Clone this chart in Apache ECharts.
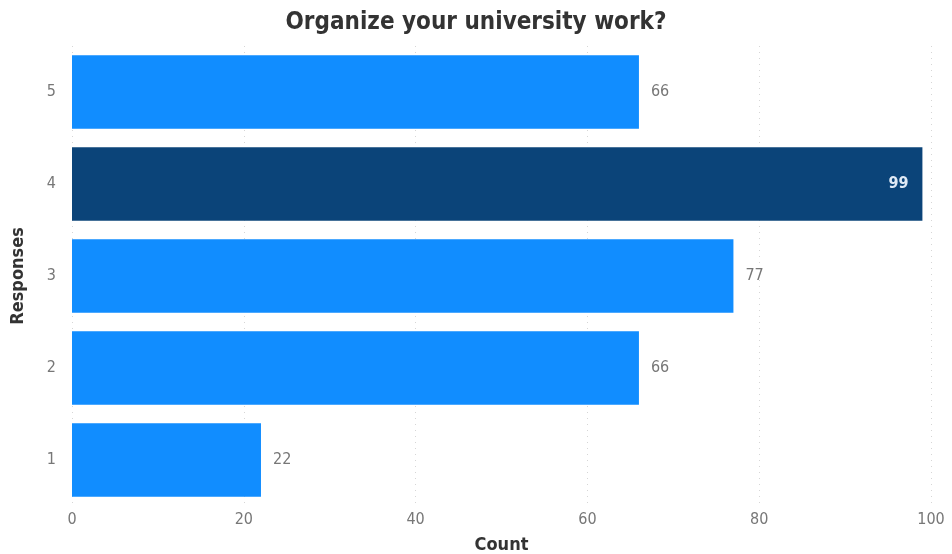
<!DOCTYPE html>
<html>
<head>
<meta charset="utf-8">
<script src="https://cdn.jsdelivr.net/npm/echarts@6/dist/echarts.min.js"></script>
<style>
  html, body { margin: 0; padding: 0; background: #ffffff; }
  #chart { width: 952px; height: 554px; }
</style>
</head>
<body>
<div id="chart"></div>
<script>
// Survey answers: how many respondents chose each response level
const responses = ['1', '2', '3', '4', '5'];
const counts = [22, 66, 77, 99, 66];
const countTicks = [0, 20, 40, 60, 80, 100];

const highlightIndex = counts.indexOf(Math.max(...counts));
const baseColor = '#118DFF';
const highlightColor = '#0B4479';

const chart = echarts.init(document.getElementById('chart'));

chart.setOption({
  backgroundColor: '#ffffff',
  animation: false,
  title: {
    text: 'Organize your university work?',
    left: 'center',
    top: 6,
    textStyle: {
      fontFamily: 'DejaVu Sans Condensed',
      fontWeight: 'bold',
      fontSize: 24,
      color: '#333333'
    }
  },
  grid: {
    left: 72,
    right: 21,
    top: 46,
    bottom: 48,
    containLabel: false,
    outerBoundsMode: 'none'
  },
  xAxis: {
    type: 'value',
    min: countTicks[0],
    max: countTicks[countTicks.length - 1],
    interval: countTicks[1] - countTicks[0],
    name: 'Count',
    nameLocation: 'middle',
    nameGap: 30,
    nameTextStyle: {
      fontFamily: 'DejaVu Sans Condensed',
      fontWeight: 'bold',
      fontSize: 18,
      color: '#333333'
    },
    axisLine: { show: false },
    axisTick: { show: false },
    axisLabel: {
      fontFamily: 'DejaVu Sans Condensed',
      fontSize: 16,
      color: '#777777',
      margin: 6
    },
    splitLine: {
      show: true,
      lineStyle: { color: '#d6d6d6', type: [1, 5], width: 1 }
    }
  },
  yAxis: {
    type: 'category',
    data: responses,
    name: 'Responses',
    nameLocation: 'middle',
    nameGap: 45,
    nameRotate: 90,
    nameTextStyle: {
      fontFamily: 'DejaVu Sans Condensed',
      fontWeight: 'bold',
      fontSize: 18,
      color: '#333333'
    },
    axisLine: { show: false },
    axisTick: { show: false },
    axisLabel: {
      fontFamily: 'DejaVu Sans Condensed',
      fontSize: 16,
      color: '#777777',
      margin: 16
    },
    splitLine: { show: false }
  },
  series: [{
    type: 'bar',
    barCategoryGap: '20%',
    data: counts.map((v, i) => ({
      value: v,
      itemStyle: { color: i === highlightIndex ? highlightColor : baseColor },
      label: i === highlightIndex
        ? { position: 'insideRight', color: '#dfe9f5', fontWeight: 'bold', distance: 14 }
        : { position: 'right', color: '#777777', distance: 12 }
    })),
    label: {
      show: true,
      fontFamily: 'DejaVu Sans Condensed',
      fontSize: 16
    }
  }]
});
</script>
</body>
</html>
